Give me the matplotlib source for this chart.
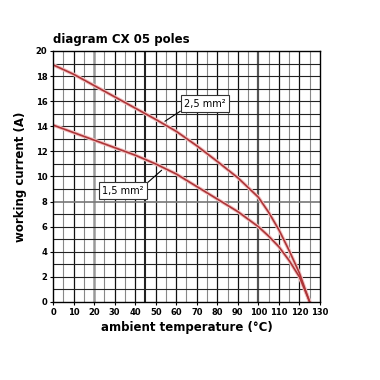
import matplotlib
matplotlib.use("Agg")
import matplotlib.pyplot as plt
import numpy as np

# Data
temp_25 = [0, 10, 20, 30, 40, 50, 60, 70, 80, 90, 100, 105, 110, 115, 120, 125]
curr_25 = [18.9, 18.15, 17.25, 16.35, 15.45, 14.55, 13.6, 12.45, 11.2, 9.9, 8.35, 7.15, 5.75, 4.1, 2.3, 0.0]
temp_15 = [0, 10, 20, 30, 40, 50, 60, 70, 80, 90, 100, 105, 110, 115, 120, 125]
curr_15 = [14.1, 13.5, 12.9, 12.3, 11.7, 11.0, 10.2, 9.2, 8.2, 7.2, 6.0, 5.25, 4.4, 3.3, 2.0, 0.0]
x_ticks = list(range(0, 131, 10))
y_ticks = list(range(0, 21, 2))
label_25 = "2,5 mm²"
label_15 = "1,5 mm²"

fig = plt.figure(figsize=(3.8, 3.8), dpi=100)
ax = fig.add_axes([0.1395, 0.2053, 0.7025, 0.6605])
ax.set_xlim(0, 130)
ax.set_ylim(0, 20)

# grid
for xv in range(5, 130, 5):
    if xv % 10 == 0:
        c, lw = "#111111", 0.9
    else:
        c, lw = "#888888", 0.8
    if xv == 20:
        c, lw = "#999999", 1.8
    if xv == 45:
        c, lw = "#222222", 1.5
    if xv == 100:
        c, lw = "#555555", 1.6
    ax.axvline(xv, color=c, lw=lw, zorder=1)
for yv in range(1, 20):
    c, lw = "#222222", 0.8
    if yv == 8:
        c, lw = "#777777", 1.2
    ax.axhline(yv, color=c, lw=lw, zorder=1)

# curves
for t, cval in [(temp_25, curr_25), (temp_15, curr_15)]:
    ax.plot(t, cval, color="#f3c2c2", lw=2.6, zorder=3, solid_capstyle="round")
    ax.plot(t, cval, color="#ad3538", lw=1.2, zorder=4)

# labels with leader lines
bbox = dict(boxstyle="square,pad=0.35", fc="white", ec="#333333", lw=0.8)
ax.annotate(label_25, xy=(54.5, 14.4), xytext=(74, 15.8), fontsize=7,
            ha="center", va="center", bbox=bbox, zorder=6,
            arrowprops=dict(arrowstyle="-", color="black", lw=0.8,
                            shrinkA=0, shrinkB=0, relpos=(0, 0)))
ax.annotate(label_15, xy=(52.9, 10.5), xytext=(34.2, 8.86), fontsize=7,
            ha="center", va="center", bbox=bbox, zorder=6,
            arrowprops=dict(arrowstyle="-", color="black", lw=0.8,
                            shrinkA=0, shrinkB=0, relpos=(1, 1)))

ax.set_xticks(x_ticks)
ax.set_yticks(y_ticks)
ax.tick_params(axis="both", labelsize=6, length=2.5, width=0.8, pad=1.5, color="black")
for lab in ax.get_xticklabels() + ax.get_yticklabels():
    lab.set_fontweight("bold")
for sp in ax.spines.values():
    sp.set_linewidth(1.0)
    sp.set_color("black")
    sp.set_zorder(5)

ax.set_xlabel("ambient temperature (°C)", fontsize=8.5, fontweight="bold", labelpad=3)
ax.set_ylabel("working current (A)", fontsize=8.5, fontweight="bold", labelpad=6)
ax.set_title("diagram CX 05 poles", loc="left", fontsize=8.5, fontweight="bold", pad=6)

fig.savefig("out.png", dpi=100)
